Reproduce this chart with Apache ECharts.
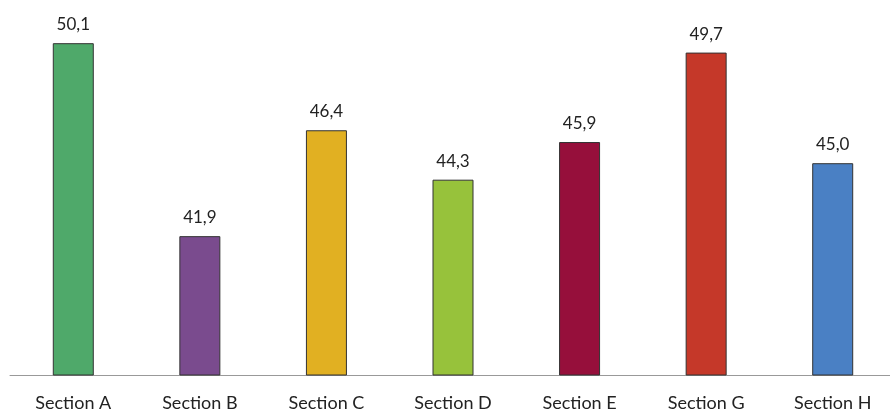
<!DOCTYPE html>
<html><head><meta charset="utf-8">
<script src="https://cdn.jsdelivr.net/npm/echarts@6/dist/echarts.min.js"></script>
<style>html,body{margin:0;padding:0;background:#fff;overflow:hidden;width:890px;height:409px}#c{width:896px;height:409px}</style>
</head><body><div id="c"></div>
<script>
const categories = ['Section A','Section B','Section C','Section D','Section E','Section G','Section H'];
const values = [50.1, 41.9, 46.4, 44.3, 45.9, 49.7, 45.0];
const colors = ['#4FA96A','#7A4B8E','#E1B022','#97C23B','#960F3B','#C53829','#4A80C4'];
const chart = echarts.init(document.getElementById('c'));
chart.setOption({
  animation:false,
  grid:{left:10,right:0,top:22,bottom:34,outerBoundsMode:'none',containLabel:false},
  xAxis:{type:'category',data:categories,
    axisLine:{lineStyle:{color:'#999',width:1}},axisTick:{show:false},
    axisLabel:{color:'#222',fontSize:18,margin:19,fontFamily:'Lato'}},
  yAxis:{type:'value',min:36,max:51,show:false,splitLine:{show:false}},
  series:[{type:'bar',barWidth:41,
    data:values.map((v,i)=>({value:v,itemStyle:{color:colors[i]}})),
    itemStyle:{borderColor:'#333',borderWidth:1},
    label:{show:true,position:'top',distance:10,color:'#222',fontSize:17,fontFamily:'Lato',
      formatter:p=>p.value.toFixed(1).replace('.',',')}}]
});
</script></body></html>
